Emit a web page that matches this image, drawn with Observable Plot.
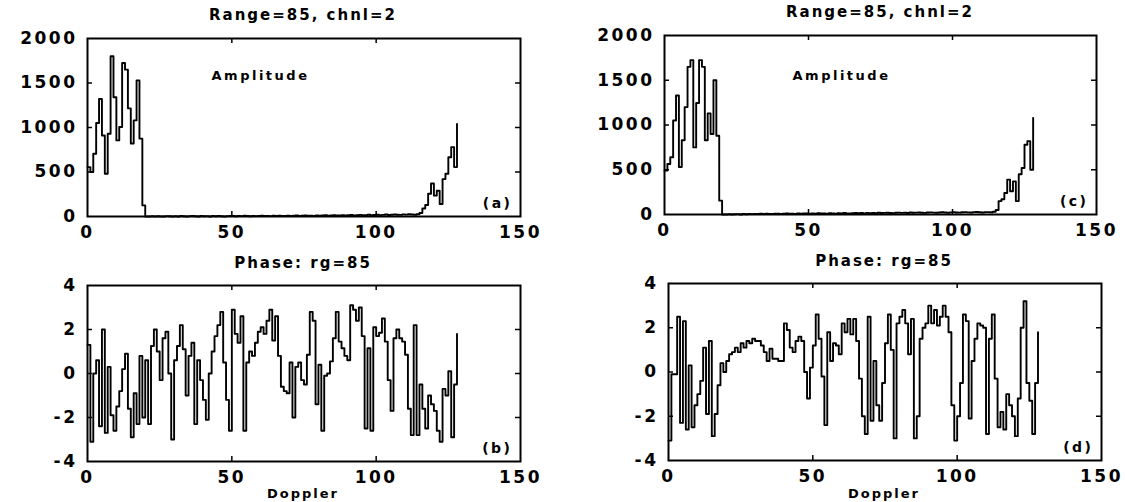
<!DOCTYPE html>
<html><head><meta charset="utf-8">
<script src="https://cdn.jsdelivr.net/npm/d3@7"></script>
<script src="https://cdn.jsdelivr.net/npm/@observablehq/plot@0.6"></script>
<style>
body{margin:0;background:#fff;}
#wrap{position:relative;width:1125px;height:502px;overflow:hidden;font-family:"DejaVu Sans",sans-serif;font-weight:bold;color:#000;}
.panel{position:absolute;}
.lbl{position:absolute;transform:translateX(-50%);white-space:nowrap;font-size:15px;letter-spacing:2px;line-height:1;}
</style></head><body><div id="wrap"></div>
<script>
// ---- data ----
const doppler = d3.range(129); // Doppler bin index 0..128
const ampA = [555,500,705,1050,1320,910,480,930,1800,1340,855,1005,1725,1650,1215,820,1080,1530,875,125,
 0,0,2,0,3,0,0,4,2,0, 3,0,5,2,0,4,6,3,0,5, 2,4,0,6,3,5,2,0,4,7, 5,3,6,4,8,5,3,7,4,6,
 9,5,7,4,8,6,10,7,5,9, 6,8,11,7,9,12,8,10,7,13, 9,11,14,10,12,15,11,13,16,12, 14,17,13,15,18,14,16,19,15,17,
 20,16,18,22,17,19,23,20,18,24, 21,25,22,
 20,25,40,90,130,255,370,235,290,140,420,480,665,780,555,1040];
const ampC = [490,565,640,1050,1330,530,830,1200,1650,1725,750,1245,1725,1650,830,1130,900,1500,880,155,
 0,0,3,0,2,4,0,5,3,6, 4,7,5,8,6,9,7,5,8,10, 6,9,11,8,10,7,12,9,11,13, 10,12,8,14,11,13,9,15,12,10,
 14,11,16,13,12,15,17,14,16,13, 18,15,17,14,19,16,18,20,17,15, 19,21,18,20,16,22,19,21,23,20, 18,22,24,21,19,23,25,22,20,24,
 26,23,21,25,27,24,22,26,28,25, 23,27,26,
 25,30,50,150,170,240,390,260,370,150,450,520,780,820,500,1080];
const phaseB = [1.3,-3.1,0.0,0.6,-2.4,2.0,-2.7,0.3,-1.9,-2.6,-1.5,-0.8,0.2,0.9,-1.6,-2.9,-0.9,-2.3,0.8,-2.0,
 0.6,-2.3,1.25,2.0,1.0,-0.3,1.6,1.9,0.0,-3.0, 0.6,1.25,2.2,1.1,-1.0,0.8,1.4,-2.3,0.6,-0.3,
 -1.2,-2.1,0.0,1.0,1.7,2.2,2.8,0.5,-1.2,-2.6,
 2.9,1.8,1.4,2.6,-2.6,0.5,1.0,0.8,1.4,1.9,2.1,1.8,2.4,2.9,1.5,2.6,0.8,-0.6,-0.8,-0.9,0.5,-2.0,0.3,0.5,
 -0.3,-0.5,0.85,2.8,2.4,-1.4,0.4,-2.6,-0.1,0.0, 0.55,1.6,2.8,1.45,1.15,0.8,0.6,3.1,2.9,2.4,
 3.0,1.7,-2.5,1.15,-2.6,2.1,1.7,1.85,2.5,1.45, -0.3,-1.7,1.6,2.0,1.6,1.45,0.85,-1.6,-2.8,2.2,
 -2.8,-0.5,-1.6,-2.5,-1.0,-1.4,-1.7,-2.6,-3.1,-0.7, -1.0,0.1,-2.9,-0.5,1.8];
const phaseD = [-3.1,-0.1,-0.1,2.5,-2.3,2.3,-2.6,0.3,-2.5,-1.5, -1.0,-0.4,1.1,-1.9,1.4,-2.9,-1.9,-0.6,0.4,0.0,
 0.5,0.8,0.9,1.1,0.9,1.3,1.1,1.4,1.3,1.5, 1.4,1.4,1.2,0.9,0.5,1.05,0.6,0.6,0.5,0.5,
 2.2,1.9,1.1,0.9,1.4,1.6,1.4,0.0,-1.2,0.2, 1.2,
 2.6,1.5,-0.2,-2.4,1.8,0.5,1.3,1.2,0.8,
 2.2,1.8,2.4,1.7,2.4,1.4,-0.3,-2.0,-2.8,2.5, -2.2,0.5,-1.5,-2.2,-0.5,1.3,2.6,1.0,-3.0,2.2,
 2.5,2.8,2.2,0.8,2.4,-3.0,-2.0,1.5,2.0,2.2, 3.0,2.2,2.8,2.1,2.5,3.0,2.5,1.8,-1.5,-3.1,
 -2.0,-0.5,2.6,2.3,-2.1,0.5,1.5,2.2,2.1,2.0, -2.8,1.5,2.6,-0.3,-2.5,-1.8,-2.6,-1.0,-1.5,-2.0,
 -2.9,-1.2,2.0,3.2,-0.5,-1.3,-2.8,-0.5,1.8];
const xTicks = [0,50,100,150];
const ampTicks = [0,500,1000,1500,2000];
const phaseTicks = [-4,-2,0,2,4];
const ampTitle = "Range=85, chnl=2";
const phaseTitle = "Phase: rg=85";
const ampLabel = "Amplitude";
const xLabel = "Doppler";
const panelTags = ["(a)","(b)","(c)","(d)"];

// ---- layout ----
const wrap = document.getElementById("wrap");
function addLabel(text, cx, top, size) {
  const d = document.createElement("div");
  d.className = "lbl"; d.textContent = text;
  d.style.left = cx + "px"; d.style.top = top + "px";
  if (size) d.style.fontSize = size + "px";
  wrap.appendChild(d);
}
function panel(values, cfg) {
  const rows = doppler.map((d, i) => ({d, v: values[i]}));
  const fw = cfg.width - cfg.ml - cfg.mr, fh = cfg.height - cfg.mt - cfg.mb;
  const yt = cfg.yTicks, inner = yt.slice(1, -1), xin = xTicks.slice(1, -1);
  const marks = [
    Plot.line(rows, {x: "d", y: "v", curve: "step-after", stroke: "#000", strokeWidth: 1.9}),
    Plot.frame({stroke: "#000", strokeWidth: 2}),
    Plot.axisX(xTicks, {tickSize: 0, tickPadding: 9, tickFormat: d => String(d), fontSize: 17, label: null}),
    Plot.axisY(yt, {tickSize: 0, tickPadding: 10, tickFormat: d => String(d), fontSize: 17, label: null}),
    Plot.tickX(xin, {x: d => d, insetTop: fh - 5, stroke: "#000", strokeWidth: 1.5}),
    Plot.tickX(xin, {x: d => d, insetBottom: fh - 5, stroke: "#000", strokeWidth: 1.5}),
    Plot.tickY(inner, {y: d => d, insetRight: fw - 5, stroke: "#000", strokeWidth: 1.5}),
    Plot.tickY(inner, {y: d => d, insetLeft: fw - 5, stroke: "#000", strokeWidth: 1.5}),
    Plot.text([cfg.tag], {frameAnchor: "bottom-right", dx: -8, dy: -9, textAnchor: "end", fontSize: 14, letterSpacing: "1.5px"})
  ];
  if (cfg.inner) marks.push(Plot.text([cfg.inner], {frameAnchor: "top-left", dx: cfg.innerDx, dy: cfg.innerDy, textAnchor: "middle", fontSize: 13, letterSpacing: "1.5px"}));
  const svg = Plot.plot({
    width: cfg.width, height: cfg.height,
    marginLeft: cfg.ml, marginRight: cfg.mr, marginTop: cfg.mt, marginBottom: cfg.mb,
    x: {domain: [0, 150], label: null},
    y: {domain: [yt[0], yt[yt.length - 1]], label: null},
    style: {fontFamily: "DejaVu Sans", fontWeight: "bold", letterSpacing: "2.5px", background: "transparent", color: "#000", overflow: "visible"},
    marks
  });
  const div = document.createElement("div");
  div.className = "panel"; div.style.left = cfg.left + "px"; div.style.top = cfg.top + "px";
  div.appendChild(svg); wrap.appendChild(div);
}
panel(ampA,   {left: 0,   top: 20,  width: 560, height: 230, ml: 87,  mr: 40, mt: 18, mb: 34, yTicks: ampTicks,   tag: panelTags[0], inner: ampLabel, innerDx: 173, innerDy: 32});
panel(phaseB, {left: 0,   top: 262, width: 560, height: 240, ml: 87,  mr: 40, mt: 23, mb: 41, yTicks: phaseTicks, tag: panelTags[1]});
panel(ampC,   {left: 560, top: 20,  width: 565, height: 230, ml: 104, mr: 29, mt: 15, mb: 36, yTicks: ampTicks,   tag: panelTags[2], inner: ampLabel, innerDx: 177, innerDy: 35});
panel(phaseD, {left: 560, top: 262, width: 565, height: 240, ml: 108, mr: 24, mt: 21, mb: 42, yTicks: phaseTicks, tag: panelTags[3]});
addLabel(ampTitle, 303, 8);
addLabel(ampTitle, 880, 5);
addLabel(phaseTitle, 303, 256);
addLabel(phaseTitle, 884, 254);
addLabel(xLabel, 303, 487, 13);
addLabel(xLabel, 884, 487, 13);
</script></body></html>
